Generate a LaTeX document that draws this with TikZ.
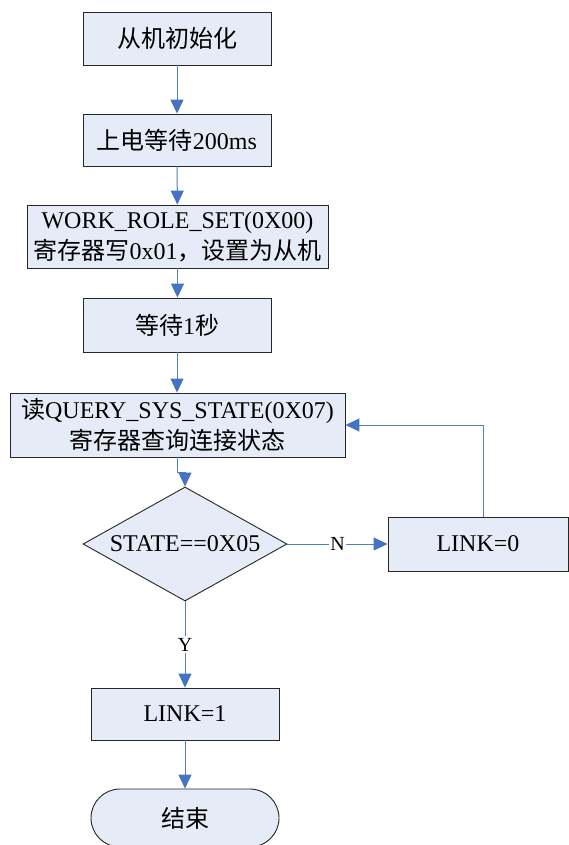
\documentclass[tikz,border=0pt]{standalone}
\usepackage{fontspec}
\setmainfont{Liberation Serif}
\newfontfamily\cjk{Noto Sans CJK SC}
\usetikzlibrary{shapes.geometric,arrows.meta}
\definecolor{boxfill}{RGB}{230,236,247}
\definecolor{linkblue}{RGB}{79,129,189}
\definecolor{tipblue}{RGB}{68,114,196}
\begin{document}
\begin{tikzpicture}[x=1pt,y=-1pt,
  font=\fontsize{24}{31}\selectfont,
  procbox/.style={draw=black!85,line width=0.9pt,fill=boxfill,inner sep=0pt,align=center},
  flow/.style={draw=linkblue,line width=1pt,-{Triangle[width=13pt,length=14pt,color=tipblue]}},
  edgelabel/.style={fill=white,inner sep=1.5pt,font=\fontsize{20}{24}\selectfont}]
\useasboundingbox (0,0) rectangle (569,845);
\node[procbox,minimum width=188pt,minimum height=53pt] (b1) at (177,38.5) {{\cjk 从机初始化}};
\node[procbox,minimum width=188pt,minimum height=52pt] (b2) at (177,140) {{\cjk 上电等待}200ms};
\node[procbox,minimum width=301pt,minimum height=63pt] (b3) at (177.5,236.5) {WORK\_ROLE\_SET(0X00)\\{\cjk 寄存器写}0x01{\cjk ，设置为从机}};
\node[procbox,minimum width=188pt,minimum height=54pt] (b4) at (177,325) {{\cjk 等待}1{\cjk 秒}};
\node[procbox,minimum width=335pt,minimum height=64pt] (b5) at (177.5,425) {{\cjk 读}QUERY\_SYS\_STATE(0X07)\\{\cjk 寄存器查询连接状态}};
\node[diamond,draw=black!85,fill=boxfill,line width=0.9pt,inner sep=0pt,minimum width=204pt,minimum height=114pt] (d) at (185,544) {};
\node[inner sep=0pt] (dt) at (d.center) {STATE==0X05};
\node[procbox,minimum width=180pt,minimum height=54pt] (l0) at (478,544) {LINK=0};
\node[procbox,minimum width=188pt,minimum height=52pt] (l1) at (185,714) {LINK=1};
\node[procbox,rounded corners=29pt,minimum width=188pt,minimum height=58pt] (e) at (185,818) {{\cjk 结束}};
\draw[flow] (b1) -- (b2);
\draw[flow] (b2) -- (b3);
\draw[flow] (b3.south) -- (b3.south |- b4.north);
\draw[flow] (b4) -- (b4.south |- b5.north);
\draw[flow] (b5.south) -- ++(0,15) -| (d.north);
\draw[flow] (d.east) -- node[edgelabel] (nl) {N} (l0.west);
\draw[flow] (d.south) -- node[edgelabel] (yl) {Y} (l1.north);
\draw[flow] ([xshift=5pt]l0.north) |- (b5.east);
\draw[flow] (l1) -- (e);
\end{tikzpicture}
\end{document}
